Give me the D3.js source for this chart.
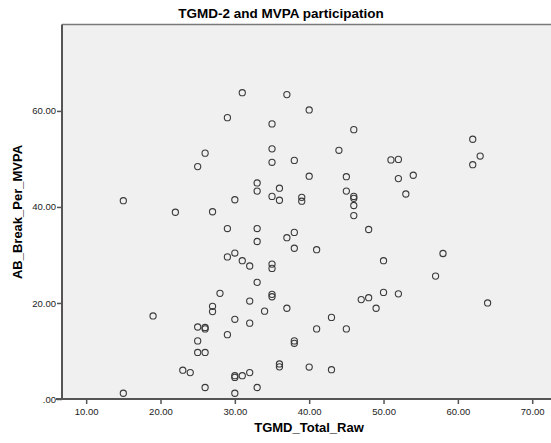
<!DOCTYPE html>
<html>
<head>
<meta charset="utf-8">
<script src="https://cdn.jsdelivr.net/npm/d3@7"></script>
<style>
  body { margin: 0; background: #fff; }
  text { font-family: "Liberation Sans", Arial, sans-serif; }
</style>
</head>
<body>
<div id="chart-area"></div>
<script>
var outerWidth = 551;
var outerHeight = 443;

// TGMD_Total_Raw values
var tgmd = [15, 31, 37, 40, 29, 35, 35, 26, 35, 38, 25, 40, 33, 33, 35, 36, 36, 39, 39, 30,
  22, 27, 46, 44, 62, 63, 62, 51, 52, 45, 52, 54, 45, 46, 46, 46, 46, 53, 29, 33,
  33, 38, 37, 38, 29, 30, 31, 32, 35, 35, 33, 28, 35, 35, 32, 27, 27, 37, 34, 19,
  30, 32, 25, 26, 26, 29, 25, 38, 38, 25, 26, 36, 36, 40, 23, 24, 30, 30, 31, 32,
  26, 33, 15, 30, 48, 41, 50, 58, 57, 50, 52, 47, 48, 49, 64, 43, 41, 45, 43];

// AB_Break_Per_MVPA values
var abBreak = [41.3, 63.8, 63.4, 60.2, 58.6, 57.3, 52.1, 51.2, 49.3, 49.7, 48.4, 46.4, 45.0, 43.3, 42.2, 43.9, 41.4, 42.0, 41.2, 41.5,
  38.9, 39.0, 56.1, 51.8, 54.1, 50.6, 48.8, 49.8, 49.9, 46.3, 45.9, 46.6, 43.3, 42.2, 41.8, 40.3, 38.2, 42.7, 35.5, 35.5,
  32.8, 34.7, 33.6, 31.4, 29.6, 30.4, 28.8, 27.7, 28.1, 27.2, 24.3, 22.0, 21.8, 21.3, 20.4, 19.3, 18.2, 18.9, 18.3, 17.3,
  16.6, 15.8, 15.0, 14.9, 14.6, 13.4, 12.1, 12.1, 11.6, 9.7, 9.7, 7.3, 6.7, 6.65, 6.0, 5.5, 4.85, 4.5, 4.85, 5.5,
  2.4, 2.4, 1.2, 1.2, 35.3, 31.1, 28.8, 30.3, 25.6, 22.2, 21.9, 20.7, 21.1, 18.9, 20.0, 17.0, 14.6, 14.6, 6.1];

var xTicks = [10, 20, 30, 40, 50, 60, 70];
var yTicks = [0, 20, 40, 60];

var chartTitle = "TGMD-2 and MVPA participation";
var xLabel = "TGMD_Total_Raw";
var yLabel = "AB_Break_Per_MVPA";

var data = tgmd.map(function(d, i) {
  return { x: d, y: abBreak[i] };
});

var plot = { left: 62, right: 556, top: 24.5, bottom: 399 };

var svg = d3.select("#chart-area")
  .append("svg")
  .attr("width", outerWidth)
  .attr("height", outerHeight);

var x = d3.scaleLinear()
  .domain([6.75, 73.2])
  .range([plot.left, plot.right]);

var y = d3.scaleLinear()
  .domain([0, 78])
  .range([plot.bottom, plot.top]);

// plot background
svg.append("rect")
  .attr("x", plot.left)
  .attr("y", plot.top)
  .attr("width", plot.right - plot.left)
  .attr("height", plot.bottom - plot.top)
  .attr("fill", "#f0f0f0");

svg.append("line")
  .attr("x1", plot.left).attr("x2", plot.right)
  .attr("y1", plot.top).attr("y2", plot.top)
  .attr("stroke", "#7a7a7a")
  .attr("stroke-width", 1.5);

// points
svg.append("g")
  .selectAll("circle")
  .data(data)
  .enter()
  .append("circle")
  .attr("cx", function(d) { return x(d.x); })
  .attr("cy", function(d) { return y(d.y); })
  .attr("r", 3.1)
  .attr("fill", "none")
  .attr("stroke", "#3a3a3a")
  .attr("stroke-width", 1.1);

// Bottom axis
var xAxis = d3.axisBottom(x)
  .tickValues(xTicks)
  .tickSize(5)
  .tickFormat(d3.format(".2f"));

var gx = svg.append("g")
  .attr("transform", "translate(0," + plot.bottom + ")")
  .call(xAxis);
gx.select(".domain").remove();
gx.append("line")
  .attr("x1", plot.left - 6).attr("x2", plot.right)
  .attr("stroke", "#555").attr("stroke-width", 2);
gx.selectAll(".tick line").attr("stroke", "#555").attr("stroke-width", 1.5);
gx.selectAll(".tick text")
  .attr("y", 9)
  .attr("fill", "#222")
  .attr("font-size", "9.5px")
  .attr("font-family", "Liberation Sans, Arial, sans-serif");

// Left axis
var yAxis = d3.axisLeft(y)
  .tickValues(yTicks)
  .tickSize(5)
  .tickFormat(function(d) {
    return d === 0 ? ".00" : d3.format(".2f")(d);
  });

var gy = svg.append("g")
  .attr("transform", "translate(" + plot.left + ",0)")
  .call(yAxis);
gy.select(".domain").remove();
gy.append("line")
  .attr("y1", plot.top).attr("y2", plot.bottom + 1)
  .attr("stroke", "#555").attr("stroke-width", 2);
gy.selectAll(".tick line").attr("stroke", "#555").attr("stroke-width", 1.5);
gy.selectAll(".tick text")
  .attr("x", -6)
  .attr("fill", "#222")
  .attr("font-size", "9.5px")
  .attr("font-family", "Liberation Sans, Arial, sans-serif");

// Title
svg.append("text")
  .attr("x", 281)
  .attr("y", 18)
  .attr("text-anchor", "middle")
  .attr("font-size", "13.5px")
  .attr("font-weight", "bold")
  .text(chartTitle);

// X-axis label
svg.append("text")
  .attr("x", 309)
  .attr("y", 432)
  .attr("text-anchor", "middle")
  .attr("font-size", "13px")
  .attr("font-weight", "bold")
  .text(xLabel);

// Y-axis label
svg.append("text")
  .attr("x", -212)
  .attr("y", 22)
  .attr("transform", "rotate(-90)")
  .attr("text-anchor", "middle")
  .attr("font-size", "13px")
  .attr("font-weight", "bold")
  .text(yLabel);
</script>
</body>
</html>
